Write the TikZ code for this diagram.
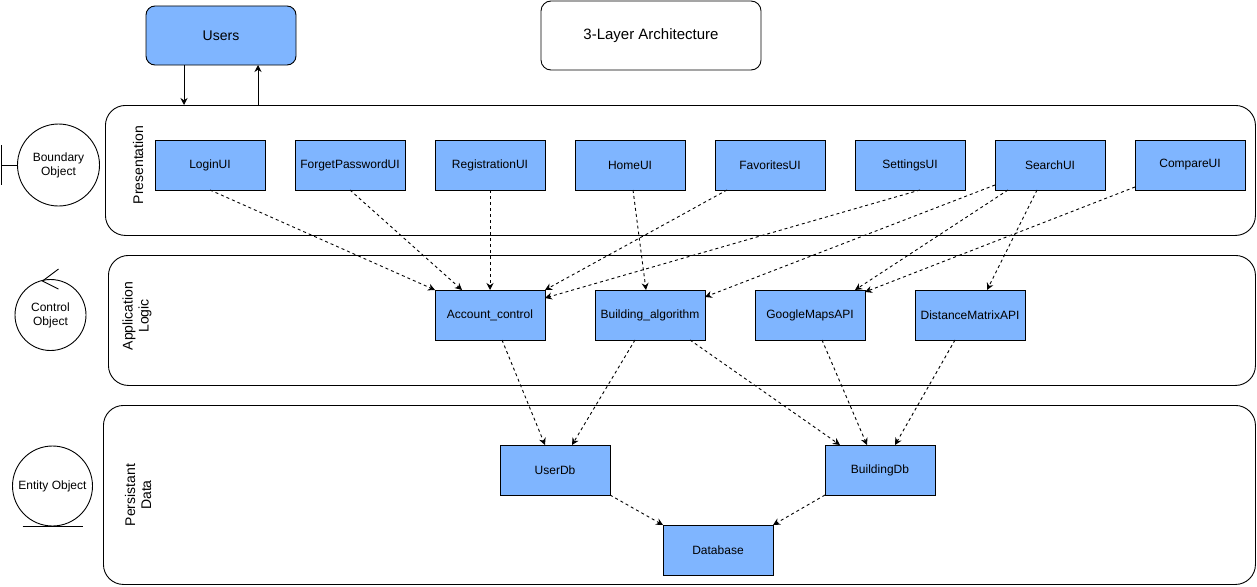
\documentclass[tikz,border=0pt]{standalone}
\usepackage{fontspec}
\setmainfont{Liberation Sans}
\usepackage{xcolor}
\usetikzlibrary{shapes.geometric, arrows, positioning, fit, backgrounds, calc, arrows.meta}
\definecolor{compblue}{RGB}{127,181,255}

\begin{document}
\begin{tikzpicture}[
    x=1pt, y=-1pt,
    line width=0.9pt,
    node distance=30pt,
    comp/.style={rectangle, draw, fill=compblue, inner xsep=1pt, outer sep=0pt, minimum width=110pt, minimum height=50pt, font=\fontsize{12}{14}\selectfont},
    layer/.style={rectangle, draw, rounded corners=20pt, anchor=north west},
    layerlabel/.style={rotate=90, align=center, font=\fontsize{14}{16}\selectfont},
    stereo/.style={circle, draw, align=center, inner sep=0pt, font=\fontsize{12}{14}\selectfont},
    dep/.style={-{Stealth[length=7pt, width=7pt]}, dash pattern=on 3pt off 3pt},
    link/.style={-{Stealth[length=7pt, width=7pt]}}
]
\useasboundingbox (0,0) rectangle (1257,586);

\node[comp, rounded corners=9pt, minimum width=150pt, minimum height=59pt, font=\fontsize{14}{16}\selectfont] (users) at (221,35.5) {Users};
\node[rectangle, draw, rounded corners=10pt, minimum width=220pt, minimum height=69pt, font=\fontsize{15}{17}\selectfont] (title) at (651,35.5) {3-Layer Architecture};

\node[layer, minimum width=1150pt, minimum height=130pt] (pres) at (105,105) {};
\node[layer, minimum width=1147pt, minimum height=130pt] (app) at (108,255) {};
\node[layer, minimum width=1152pt, minimum height=179pt] (data) at (103,405) {};

\node[layerlabel] (presLabel) at (138,165) {Presentation};
\node[layerlabel] (appLabel) at (137,316) {Application\\Logic};
\node[layerlabel] (dataLabel) at (138,495) {Persistant\\Data};

\node[stereo, minimum size=82pt] (boundary) at (58.5,165) {Boundary\\Object};
\node[stereo, minimum size=71pt] (control) at (50.5,315) {Control\\Object};
\node[stereo, minimum size=80pt] (entity) at (52.5,486) {Entity Object};
\draw (boundary.west) -- ++(-16,0) coordinate (bbar);
\draw ([yshift=20pt]bbar) -- ([yshift=-20pt]bbar);
\draw ($(control.north)+(8,-10)$) -- ($(control.north)+(-8,2)$) -- ($(control.north)+(8,10)$);
\draw ([xshift=-30pt]entity.south) -- ([xshift=30pt]entity.south);

\node[comp] (login) at (210,165) {LoginUI};
\node[comp, right=of login] (forget) {ForgetPasswordUI};
\node[comp, right=of forget] (register) {RegistrationUI};
\node[comp, right=of register] (home) {HomeUI};
\node[comp, right=of home] (favorites) {FavoritesUI};
\node[comp, right=of favorites] (settings) {SettingsUI};
\node[comp, right=of settings] (search) {SearchUI};
\node[comp, right=of search] (compare) {CompareUI};

\node[comp] (account) at (490,315) {Account\_control};
\node[comp] (algorithm) at (650,315) {Building\_algorithm};
\node[comp, right=50pt of algorithm] (gmaps) {GoogleMapsAPI};
\node[comp, right=50pt of gmaps] (distance) {DistanceMatrixAPI};

\node[comp] (userdb) at (555,470) {UserDb};
\node[comp] (buildingdb) at (880,470) {BuildingDb};
\node[comp] (database) at (718,550) {Database};

\draw[link] ([xshift=-37pt]users.south) -- ([xshift=-37pt]users.south |- pres.north);
\draw[link] ([xshift=37pt]users.south |- pres.north) -- ([xshift=37pt]users.south);

\draw[dep] (login.south) -- (account.north west);
\draw[dep] (forget.south) -- ([xshift=27pt]account.north west);
\draw[dep] (register.south) -- (account.north);
\draw[dep] ([xshift=12pt]favorites.south west) -- (account.north east);
\draw[dep] ([xshift=10pt]settings.south) -- ([yshift=-8pt]account.north east);
\draw[dep] ([xshift=3pt]home.south) -- ([xshift=-4pt]algorithm.north);
\draw[dep] ([yshift=5pt]search.south west) -- ([yshift=-7pt]algorithm.north east);
\draw[dep] ([xshift=13pt]search.south west) -- ([xshift=-10pt]gmaps.north east);
\draw[dep] ([xshift=-13pt]search.south) -- ([xshift=17pt]distance.north);
\draw[dep] ([yshift=3pt]compare.south west) -- ([yshift=-2pt]gmaps.north east);

\draw[dep] ([xshift=12pt]account.south) -- ([xshift=-10pt]userdb.north);
\draw[dep] ([xshift=-15pt]algorithm.south) -- ([xshift=17pt]userdb.north);
\draw[dep] ([xshift=40pt]algorithm.south) -- ([xshift=15pt]buildingdb.north west);
\draw[dep] ([xshift=12pt]gmaps.south) -- ([xshift=-13pt]buildingdb.north);
\draw[dep] ([xshift=-15pt]distance.south) -- ([xshift=15pt]buildingdb.north);
\draw[dep] (userdb.south east) -- (database.north west);
\draw[dep] (buildingdb.south west) -- (database.north east);
\end{tikzpicture}
\end{document}
